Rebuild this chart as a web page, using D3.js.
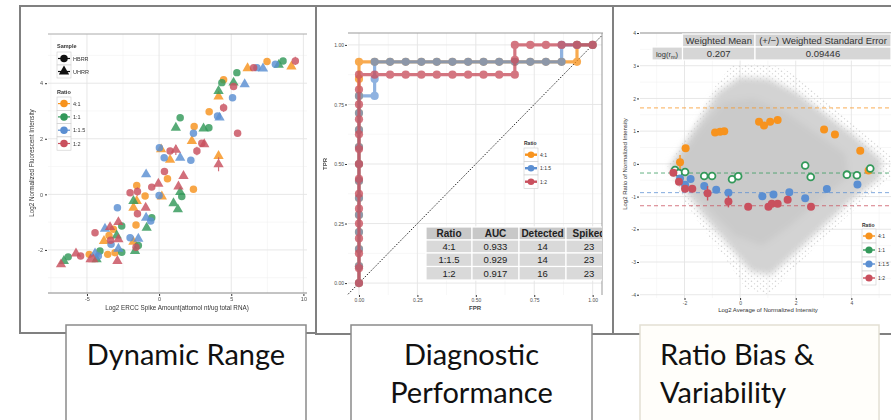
<!DOCTYPE html>
<html lang="en">
  <head>
    <meta charset="UTF-8" />
    <title>ERCC metrics</title>
    <script src="https://d3js.org/d3.v7.min.js"></script>
    <style>
      * {
        margin: 0;
        padding: 0;
      }
      body {
        background: #fff;
        font-family: "Liberation Sans", Arial, sans-serif;
      }
    </style>
  </head>
  <body>
    <div id="svgContainer"></div>
    <script>
      // ---------- data ----------
      const ratioNames = ["4:1", "1:1", "1:1.5", "1:2"];
      const ratioColors = ["#f7931e", "#33995a", "#5b8fd2", "#c9505e"];
      const sampleNames = ["HBRR", "UHRR"];

      // panel 1: [log2 spike amount, log2 intensity, errorbar half length]
      const hbrr41 = [[7.48,4.78],[4.47,4.12],[3.47,2.97],[2.43,2.44],[0.58,0.56],[-1.55,0.32],[-0.97,-0.06],[2.38,0.18],[-1.6,-1.1],[-3.17,-1.26],[-3.47,-1.48],[-3.06,-2.1],[-3.56,-2.16],[-4.84,-2.16]];
      const uhrr41 = [[9.17,4.6],[6.13,4.54],[4.12,3.52],[2.27,1.92],[0.14,1.62],[0.76,1.24],[4.12,1.38],[0.19,-0.08],[-1.55,-0.24],[-1.78,-0.48],[-3.82,-1.68],[-1.78,-1.71]];
      const hbrr11 = [[8.59,4.8],[5.39,4.38],[4.35,4.02],[1.46,2.76],[3.45,2.4],[1.57,-0.08],[-0.51,-0.84],[-2.59,-1.14],[-1.44,-1.84],[-4.1,-2.04],[-2.59,-2.08],[-6.3,-2.25]];
      const uhrr11 = [[8.29,4.66],[5.16,4.02],[4.12,3.72],[1.16,2.4],[3.08,2.37],[1.46,0.08],[-1.78,-0.24],[1.0,-0.32],[1.3,-0.54],[-0.86,-1.2],[-2.94,-1.48],[-1.67,-2.04],[-4.33,-2.34],[-6.6,-2.4]];
      const hbrr115 = [[8.06,4.68],[6.78,4.56],[5.09,3.48],[4.05,2.82],[2.38,2.2],[0.02,1.68],[0.35,1.32],[2.2,1.23],[0,-0.04],[-2.89,-0.48],[-0.58,-0.96],[-2.01,-1.56],[-3.33,-1.8],[-4.21,-2.22]];
      const uhrr115 = [[7.2,4.53],[5.93,3.96],[4.19,2.76],[1.46,1.32],[-0.9,0.72],[-0.9,-0.84],[-3.75,-1.24],[-1.44,-1.6],[-2.82,-1.96],[-4.44,-2.13]];
      const hbrr12 = [[9.44,4.8,0.15],[6.55,4.56],[5.16,3.88],[4.47,3.12,0.15],[5.44,2.2],[2.96,1.84],[0.76,1.56],[2.62,1.56,0.15],[0.37,0.82],[-0.51,0.26],[-2.01,0.06],[-1.5,0.1,0.15],[-1.5,-0.7,0.12],[-4.44,-1.38],[-3.36,-1.65],[-1.6,-1.9],[-5.44,-2.22]];
      const uhrr12 = [[3.13,1.8],[1.16,1.6,0.18],[4.12,1.08,0.25],[1.69,0.66],[-0.05,0.38],[1.34,0.28],[-0.93,-0.48],[-2.82,-1.0],[-3.4,-1.18],[-2.82,-1.62],[-4.56,-2.34],[-4.75,-2.34],[-2.89,-2.4],[-5.76,-2.13],[-6.8,-2.52]];
      const p1XTicks = [-5, 0, 5, 10];
      const p1YTicks = [-2, 0, 2, 4];

      // panel 2: ROC curves
      const roc41Fpr = [0,0,0,0,0,0,0,0,0,0,0,0,0,0,0.067,0.133,0.2,0.267,0.333,0.4,0.467,0.533,0.6,0.667,0.733,0.8,0.867,0.933,0.933,1];
      const roc41Tpr = [0,0.071,0.143,0.214,0.286,0.357,0.429,0.5,0.571,0.643,0.714,0.786,0.857,0.929,0.929,0.929,0.929,0.929,0.929,0.929,0.929,0.929,0.929,0.929,0.929,0.929,0.929,0.929,1,1];
      const roc115Fpr = [0,0,0,0,0,0,0,0,0,0,0,0,0.067,0.067,0.067,0.133,0.2,0.267,0.333,0.4,0.467,0.533,0.6,0.667,0.733,0.8,0.867,0.867,0.933,1];
      const roc115Tpr = [0,0.071,0.143,0.214,0.286,0.357,0.429,0.5,0.571,0.643,0.714,0.786,0.786,0.857,0.929,0.929,0.929,0.929,0.929,0.929,0.929,0.929,0.929,0.929,0.929,0.929,0.929,1,1,1];
      const roc12Fpr = [0,0,0,0,0,0,0,0,0,0,0,0,0,0,0,0.067,0.133,0.2,0.267,0.333,0.4,0.467,0.533,0.6,0.667,0.667,0.667,0.733,0.8,0.867,0.933,1];
      const roc12Tpr = [0,0.0625,0.125,0.1875,0.25,0.3125,0.375,0.4375,0.5,0.5625,0.625,0.6875,0.75,0.8125,0.875,0.875,0.875,0.875,0.875,0.875,0.875,0.875,0.875,0.875,0.875,0.9375,1,1,1,1,1,1];
      const rocRatios = ["4:1", "1:1.5", "1:2"];
      const aucCols = ["Ratio", "AUC", "Detected", "Spiked"];
      const aucRows = [["4:1","0.933","14","23"],["1:1.5","0.929","14","23"],["1:2","0.917","16","23"]];
      const p2Ticks = [0, 0.25, 0.5, 0.75, 1];

      // panel 3: ratio vs average intensity
      const cloudOuter = [[-2.62,-0.1],[-1.6,1.3],[-0.8,2.5],[-0.3,3.0],[0.5,3.05],[1.5,2.95],[2.3,2.5],[3.3,1.75],[4.4,1.0],[5.5,0.15],[5.5,-0.4],[4.5,-1.1],[3.4,-1.95],[2.4,-2.8],[1.6,-3.5],[1.0,-4.0],[0.2,-3.8],[-0.6,-2.8],[-1.4,-1.9],[-2.1,-1.0]];
      const cloudMid = [[-2.55,-0.1],[-1.6,1.15],[-0.8,2.2],[0,2.65],[1.0,2.6],[2.0,2.2],[3.1,1.5],[4.2,0.8],[5.1,0.1],[5.0,-0.45],[4.0,-1.1],[3.0,-1.9],[2.0,-2.7],[1.1,-3.4],[0.4,-3.3],[-0.4,-2.5],[-1.3,-1.6],[-2.0,-0.8]];
      const cloudInner = [[-2.4,-0.1],[-1.5,1.0],[-0.6,1.9],[0.5,2.0],[1.6,1.6],[2.8,0.9],[3.8,0.3],[3.9,-0.4],[2.9,-1.1],[1.8,-1.9],[0.8,-2.5],[-0.2,-2.2],[-1.2,-1.3],[-1.9,-0.7]];
      const p3r41 = [[-2.16,0.05,0.22],[-1.96,0.48],[-0.9,0.96],[-0.72,0.98],[-0.57,1.0,0.1],[0.68,1.29],[0.86,1.17],[1.08,1.29],[1.35,1.34],[3.02,1.05],[3.41,0.9],[4.32,0.4],[4.62,-0.2]];
      const p3r11 = [[-2.34,-0.19],[-2.2,-0.28],[-1.98,-0.25],[-1.29,-0.37],[-1.01,-0.37],[-0.29,-0.47],[-0.07,-0.38],[2.34,-0.05],[2.54,-0.4],[3.84,-0.33],[4.2,-0.35],[4.68,-0.14]];
      const p3r115 = [[-2.16,-0.45],[-1.98,-0.64],[-1.78,-0.46],[-1.29,-0.68],[-0.86,-0.79],[-0.42,-0.88],[0.8,-0.99],[1.2,-0.94],[1.77,-0.87],[2.34,-1.05],[3.12,-0.77],[4.22,-0.63]];
      const p3r12 = [[-2.4,-0.27],[-2.2,-0.55],[-1.98,-0.76],[-1.72,-0.76],[-1.17,-0.9,0.22],[-0.42,-1.15,0.18],[0.29,-1.31],[1.02,-1.31],[1.14,-1.22],[1.35,-1.22],[1.71,-1.1],[2.55,-1.31]];
      const p3Expected = [1.71, -0.28, -0.88, -1.28];
      const p3XTicks = [-2, 0, 2, 4];
      const p3YTicks = [-4, -3, -2, -1, 0, 1, 2, 3, 4];
      const wCols = ["Weighted Mean", "(+/\u2212) Weighted Standard Error"];
      const wVals = ["0.207", "0.09446"];

      const captions = [["Dynamic Range"], ["Diagnostic", "Performance"], ["Ratio Bias &", "Variability"]];

      // ---------- svg ----------
      const width = 891, height = 420;
      const svg = d3.select("#svgContainer").append("svg")
        .attr("width", width).attr("height", height);

      const defs = svg.append("defs");
      [["clip2", 316, 6, 297, 330], ["clip3", 613, 6, 280, 330]].forEach(c => {
        defs.append("clipPath").attr("id", c[0]).append("rect")
          .attr("x", c[1]).attr("y", c[2]).attr("width", c[3]).attr("height", c[4]);
      });
      defs.append("clipPath").attr("id", "clipTable2").append("rect")
        .attr("x", 420).attr("y", 220).attr("width", 182).attr("height", 70);
      const pat = defs.append("pattern").attr("id", "speck").attr("width", 6).attr("height", 5)
        .attr("patternUnits", "userSpaceOnUse");
      pat.append("circle").attr("cx", 1.5).attr("cy", 1.2).attr("r", 0.8).attr("fill", "#d2d2d2");
      pat.append("circle").attr("cx", 4.5).attr("cy", 3.7).attr("r", 0.7).attr("fill", "#dadada");
      defs.append("filter").attr("id", "soft").attr("x", "-10%").attr("y", "-10%")
        .attr("width", "120%").attr("height", "120%")
        .append("feGaussianBlur").attr("stdDeviation", 3);

      // outer frames
      [[20, 6, 296, 327], [316, 6, 297, 328], [613, 6, 300, 328]].forEach(f => {
        svg.append("rect").attr("x", f[0]).attr("y", f[1]).attr("width", f[2]).attr("height", f[3])
          .attr("fill", "none").attr("stroke", "#808080").attr("stroke-width", 2);
      });

      function grid(g, x, y, xs, ys, cls) {
        g.selectAll("line." + cls + "x").data(xs).join("line")
          .attr("x1", d => x(d)).attr("x2", d => x(d))
          .attr("y1", y.range()[0]).attr("y2", y.range()[1]);
        g.selectAll("line." + cls + "y").data(ys).join("line")
          .attr("y1", d => y(d)).attr("y2", d => y(d))
          .attr("x1", x.range()[0]).attr("x2", x.range()[1]);
      }

      function styleAxis(a, size) {
        a.select(".domain").remove();
        a.selectAll("text").attr("font-size", size).attr("fill", "#4d4d4d");
        a.selectAll("line").attr("stroke", "#333");
      }

      // ---------- panel 1: dynamic range ----------
      const x1 = d3.scaleLinear().domain([-7.7, 10.25]).range([48, 307]);
      const y1 = d3.scaleLinear().domain([-3.55, 5.77]).range([293, 34]);
      const g1 = svg.append("g");
      grid(g1.append("g").attr("stroke", "#f1f1f1").attr("stroke-width", 0.6), x1, y1,
        [-7.5, -2.5, 2.5, 7.5], [-3, -1, 1, 3, 5], "mn");
      grid(g1.append("g").attr("stroke", "#e4e4e4").attr("stroke-width", 0.9), x1, y1,
        p1XTicks, p1YTicks, "mj");
      g1.append("line").attr("x1", 48).attr("x2", 307).attr("y1", 34).attr("y2", 34)
        .attr("stroke", "#aaa").attr("stroke-width", 1);
      g1.append("line").attr("x1", 48).attr("x2", 307).attr("y1", 293).attr("y2", 293)
        .attr("stroke", "#888").attr("stroke-width", 1);

      const p1Series = [
        [hbrr41, 0, 0], [uhrr41, 0, 1], [hbrr11, 1, 0], [uhrr11, 1, 1],
        [hbrr115, 2, 0], [uhrr115, 2, 1], [hbrr12, 3, 0], [uhrr12, 3, 1]
      ];
      const circleSym = d3.symbol().type(d3.symbolCircle).size(44);
      const triSym = d3.symbol().type(d3.symbolTriangle).size(46);
      p1Series.forEach(s => {
        const col = ratioColors[s[1]];
        const sg = g1.append("g").attr("opacity", 0.82);
        sg.selectAll("line").data(s[0].filter(d => d[2])).join("line")
          .attr("x1", d => x1(d[0])).attr("x2", d => x1(d[0]))
          .attr("y1", d => y1(d[1] - d[2])).attr("y2", d => y1(d[1] + d[2]))
          .attr("stroke", col).attr("stroke-width", 1.2);
        sg.selectAll("path").data(s[0]).join("path")
          .attr("d", s[2] === 0 ? circleSym : triSym)
          .attr("transform", d => `translate(${x1(d[0])},${y1(d[1])})`)
          .attr("fill", col);
      });

      const ax1 = g1.append("g").attr("transform", "translate(47,0)")
        .call(d3.axisLeft(y1).tickValues(p1YTicks).tickSize(2).tickPadding(2).tickFormat(d => String(d)));
      styleAxis(ax1, 5.5);
      const bx1 = g1.append("g").attr("transform", "translate(0,294)")
        .call(d3.axisBottom(x1).tickValues(p1XTicks).tickSize(2).tickPadding(1).tickFormat(d => String(d)));
      styleAxis(bx1, 5.5);
      g1.append("text").attr("x", 177).attr("y", 310).attr("text-anchor", "middle")
        .attr("font-size", 6.3).attr("fill", "#333")
        .text("Log2 ERCC Spike Amount(attomol nt/ug total RNA)");
      g1.append("text").attr("transform", "translate(34,163) rotate(-90)")
        .attr("text-anchor", "middle").attr("font-size", 6.3).attr("fill", "#333")
        .text("Log2 Normalized Fluorescent Intensity");

      // legend panel 1
      const lg1 = g1.append("g").attr("font-size", 5.5).attr("fill", "#333");
      lg1.append("text").attr("x", 57).attr("y", 48).attr("font-weight", "bold").text("Sample");
      sampleNames.forEach((n, i) => {
        const yy = 52 + i * 13;
        lg1.append("rect").attr("x", 57).attr("y", yy).attr("width", 14).attr("height", 13)
          .attr("fill", "#fff").attr("stroke", "#ccc").attr("stroke-width", 0.6);
        lg1.append("line").attr("x1", 58).attr("x2", 70).attr("y1", yy + 6.5).attr("y2", yy + 6.5)
          .attr("stroke", "#111").attr("stroke-width", 1.2);
        lg1.append("path").attr("d", i === 0 ? circleSym : triSym)
          .attr("transform", `translate(64,${yy + 6.5})`).attr("fill", "#111");
        lg1.append("text").attr("x", 73).attr("y", yy + 8.5).text(n);
      });
      lg1.append("text").attr("x", 57).attr("y", 94).attr("font-weight", "bold").text("Ratio");
      ratioNames.forEach((n, i) => {
        const yy = 97 + i * 13.3;
        lg1.append("rect").attr("x", 57).attr("y", yy).attr("width", 14).attr("height", 13.3)
          .attr("fill", "#fff").attr("stroke", "#ccc").attr("stroke-width", 0.6);
        lg1.append("line").attr("x1", 58).attr("x2", 70).attr("y1", yy + 6.6).attr("y2", yy + 6.6)
          .attr("stroke", ratioColors[i]).attr("stroke-width", 1.2);
        lg1.append("path").attr("d", circleSym)
          .attr("transform", `translate(64,${yy + 6.6})`).attr("fill", ratioColors[i]);
        lg1.append("text").attr("x", 73).attr("y", yy + 8.6).text(n);
      });

      // ---------- panel 2: diagnostic performance ----------
      const x2 = d3.scaleLinear().domain([-0.047, 1.04]).range([348, 602]);
      const y2 = d3.scaleLinear().domain([-0.05, 1.05]).range([295, 33]);
      const g2 = svg.append("g").attr("clip-path", "url(#clip2)");
      grid(g2.append("g").attr("stroke", "#f1f1f1").attr("stroke-width", 0.6), x2, y2,
        [0.125, 0.375, 0.625, 0.875], [0.125, 0.375, 0.625, 0.875], "mn");
      grid(g2.append("g").attr("stroke", "#e4e4e4").attr("stroke-width", 0.9), x2, y2,
        p2Ticks, p2Ticks, "mj");
      g2.append("line").attr("x1", 348).attr("x2", 603).attr("y1", 33).attr("y2", 33)
        .attr("stroke", "#999").attr("stroke-width", 1);
      g2.append("line").attr("x1", 602).attr("x2", 602).attr("y1", 33).attr("y2", 295)
        .attr("stroke", "#999").attr("stroke-width", 1);
      g2.append("line")
        .attr("x1", x2(-0.047)).attr("y1", y2(-0.047)).attr("x2", x2(1.04)).attr("y2", y2(1.04))
        .attr("stroke", "#111").attr("stroke-width", 0.9).attr("stroke-dasharray", "1.5,1.5");

      const rocSets = [[roc41Fpr, roc41Tpr, 0], [roc115Fpr, roc115Tpr, 2], [roc12Fpr, roc12Tpr, 3]];
      const rocLine = d3.line().x(d => x2(d[0])).y(d => y2(d[1]));
      rocSets.forEach(s => {
        const pts = s[0].map((f, i) => [f, s[1][i]]);
        const col = ratioColors[s[2]];
        const sg = g2.append("g").attr("opacity", s[2] === 2 ? 0.68 : 0.78);
        sg.append("path").datum(pts).attr("d", rocLine).attr("fill", "none")
          .attr("stroke", col).attr("stroke-width", 3.2).attr("stroke-linejoin", "round");
        sg.selectAll("circle").data(pts).join("circle")
          .attr("cx", d => x2(d[0])).attr("cy", d => y2(d[1])).attr("r", 4.1).attr("fill", col);
      });

      const ax2 = g2.append("g").attr("transform", "translate(347,0)")
        .call(d3.axisLeft(y2).tickValues(p2Ticks).tickSize(2).tickPadding(1).tickFormat(d3.format(".2f")));
      styleAxis(ax2, 5);
      const bx2 = g2.append("g").attr("transform", "translate(0,295)")
        .call(d3.axisBottom(x2).tickValues(p2Ticks).tickSize(2).tickPadding(1).tickFormat(d3.format(".2f")));
      styleAxis(bx2, 5);
      g2.append("text").attr("x", 475).attr("y", 310).attr("text-anchor", "middle")
        .attr("font-size", 6).attr("font-weight", "bold").attr("fill", "#444").text("FPR");
      g2.append("text").attr("transform", "translate(327,164) rotate(-90)")
        .attr("text-anchor", "middle").attr("font-size", 6).attr("font-weight", "bold")
        .attr("fill", "#444").text("TPR");

      // legend panel 2
      const lg2 = g2.append("g").attr("font-size", 5).attr("fill", "#333");
      lg2.append("text").attr("x", 524).attr("y", 145).attr("font-weight", "bold").text("Ratio");
      rocRatios.forEach((n, i) => {
        const yy = 148 + i * 13.5;
        const col = ratioColors[[0, 2, 3][i]];
        lg2.append("rect").attr("x", 524).attr("y", yy).attr("width", 14).attr("height", 13.5)
          .attr("fill", "#fff").attr("stroke", "#ccc").attr("stroke-width", 0.6);
        lg2.append("line").attr("x1", 525).attr("x2", 537).attr("y1", yy + 6.7).attr("y2", yy + 6.7)
          .attr("stroke", col).attr("stroke-width", 2.4);
        lg2.append("circle").attr("cx", 531).attr("cy", yy + 6.7).attr("r", 3.3).attr("fill", col);
        lg2.append("text").attr("x", 540).attr("y", yy + 8.6).text(n);
      });

      // auc table
      const tb2 = g2.append("g").attr("clip-path", "url(#clipTable2)");
      const colX = [426, 472, 519, 566, 612];
      const rowY = [227, 240, 253, 266.5, 280];
      [aucCols].concat(aucRows).forEach((row, r) => {
        row.forEach((cell, c) => {
          tb2.append("rect").attr("x", colX[c]).attr("y", rowY[r])
            .attr("width", colX[c + 1] - colX[c]).attr("height", rowY[r + 1] - rowY[r])
            .attr("fill", r === 0 ? "#c8c8c8" : "#d9d9d9").attr("stroke", "#fff").attr("stroke-width", 1.2);
          tb2.append("text").attr("x", (colX[c] + colX[c + 1]) / 2).attr("y", rowY[r] + 10)
            .attr("text-anchor", "middle").attr("font-size", r === 0 ? 10 : 9.5)
            .attr("font-weight", r === 0 ? "bold" : "normal").attr("fill", "#222").text(cell);
        });
      });

      // ---------- panel 3: ratio bias ----------
      const x3 = d3.scaleLinear().domain([-3.6, 5.93]).range([640, 905]);
      const y3 = d3.scaleLinear().domain([-4.1, 4]).range([298, 33]);
      const g3 = svg.append("g").attr("clip-path", "url(#clip3)");
      grid(g3.append("g").attr("stroke", "#f1f1f1").attr("stroke-width", 0.6), x3, y3,
        [-3, -1, 1, 3, 5], [-3.5, -2.5, -1.5, -0.5, 0.5, 1.5, 2.5, 3.5], "mn");
      grid(g3.append("g").attr("stroke", "#e4e4e4").attr("stroke-width", 0.9), x3, y3,
        p3XTicks, p3YTicks, "mj");

      const cloud = d3.line().x(d => x3(d[0])).y(d => y3(d[1])).curve(d3.curveLinearClosed);
      g3.append("path").datum(cloudOuter).attr("d", cloud).attr("fill", "url(#speck)");
      const cg = g3.append("g").attr("filter", "url(#soft)");
      cg.append("path").datum(cloudMid).attr("d", cloud).attr("fill", "#d3d3d3");
      cg.append("path").datum(cloudInner).attr("d", cloud).attr("fill", "#cacaca");

      g3.selectAll("line.exp").data(p3Expected).join("line").attr("class", "exp")
        .attr("x1", 640).attr("x2", 905).attr("y1", d => y3(d)).attr("y2", d => y3(d))
        .attr("stroke", (d, i) => ratioColors[i]).attr("stroke-width", 0.9)
        .attr("stroke-dasharray", "4,3").attr("opacity", 0.85);

      [p3r41, p3r11, p3r115, p3r12].forEach((pts, i) => {
        const col = ratioColors[i];
        const sg = g3.append("g");
        sg.selectAll("line").data(pts.filter(d => d[2])).join("line")
          .attr("x1", d => x3(d[0])).attr("x2", d => x3(d[0]))
          .attr("y1", d => y3(d[1] - d[2])).attr("y2", d => y3(d[1] + d[2]))
          .attr("stroke", col).attr("stroke-width", 1.4);
        sg.selectAll("circle").data(pts).join("circle")
          .attr("cx", d => x3(d[0])).attr("cy", d => y3(d[1]))
          .attr("r", i === 1 ? 3.4 : 4)
          .attr("fill", i === 1 ? "#fff" : col)
          .attr("stroke", col).attr("stroke-width", i === 1 ? 1.8 : 0);
      });

      g3.append("line").attr("x1", 640).attr("x2", 905).attr("y1", 33).attr("y2", 33)
        .attr("stroke", "#999").attr("stroke-width", 1);
      const ax3 = g3.append("g").attr("transform", "translate(639,0)")
        .call(d3.axisLeft(y3).tickValues(p3YTicks).tickSize(2).tickPadding(1).tickFormat(d => String(d)));
      styleAxis(ax3, 5);
      const bx3 = g3.append("g").attr("transform", "translate(0,298)")
        .call(d3.axisBottom(x3).tickValues(p3XTicks).tickSize(2).tickPadding(1).tickFormat(d => String(d)));
      styleAxis(bx3, 5);
      g3.append("text").attr("x", 768).attr("y", 312).attr("text-anchor", "middle")
        .attr("font-size", 6).attr("fill", "#333").text("Log2 Average of Normalized Intensity");
      g3.append("text").attr("transform", "translate(627,164) rotate(-90)")
        .attr("text-anchor", "middle").attr("font-size", 6).attr("fill", "#333")
        .text("Log2 Ratio of Normalized Intensity");

      // weighted table
      const wX = [652, 682.5, 755, 891];
      const wY = [34, 47, 60];
      g3.selectAll("rect.wh").data(wCols).join("rect").attr("class", "wh")
        .attr("x", (d, i) => wX[i + 1]).attr("y", wY[0])
        .attr("width", (d, i) => wX[i + 2] - wX[i + 1]).attr("height", wY[1] - wY[0])
        .attr("fill", "#d2d2d2").attr("stroke", "#fff").attr("stroke-width", 1.2);
      g3.selectAll("text.wh").data(wCols).join("text").attr("class", "wh")
        .attr("x", (d, i) => (wX[i + 1] + wX[i + 2]) / 2).attr("y", wY[0] + 9.8)
        .attr("text-anchor", "middle").attr("font-size", 9.5).attr("fill", "#333").text(d => d);
      g3.selectAll("rect.wv").data([""].concat(wVals)).join("rect").attr("class", "wv")
        .attr("x", (d, i) => wX[i]).attr("y", wY[1])
        .attr("width", (d, i) => wX[i + 1] - wX[i]).attr("height", wY[2] - wY[1])
        .attr("fill", "#d6d6d6").attr("stroke", "#fff").attr("stroke-width", 1.2);
      g3.selectAll("text.wv").data(wVals).join("text").attr("class", "wv")
        .attr("x", (d, i) => (wX[i + 1] + wX[i + 2]) / 2).attr("y", wY[1] + 10)
        .attr("text-anchor", "middle").attr("font-size", 9.5).attr("fill", "#333").text(d => d);
      const lbl = g3.append("text").attr("x", 667).attr("y", wY[1] + 9.5)
        .attr("text-anchor", "middle").attr("font-size", 7.5).attr("fill", "#333");
      lbl.append("tspan").text("log(r");
      lbl.append("tspan").attr("font-size", 5.5).attr("dy", 2).text("m");
      lbl.append("tspan").attr("dy", -2).text(")");

      // legend panel 3
      const lg3 = g3.append("g").attr("font-size", 5).attr("fill", "#333");
      lg3.append("text").attr("x", 862).attr("y", 227).attr("font-weight", "bold").text("Ratio");
      ratioNames.forEach((n, i) => {
        const yy = 229 + i * 14;
        lg3.append("rect").attr("x", 862).attr("y", yy).attr("width", 14).attr("height", 14)
          .attr("fill", "#fff").attr("stroke", "#ccc").attr("stroke-width", 0.6);
        lg3.append("line").attr("x1", 863).attr("x2", 875).attr("y1", yy + 7).attr("y2", yy + 7)
          .attr("stroke", ratioColors[i]).attr("stroke-width", 1.4);
        lg3.append("circle").attr("cx", 869).attr("cy", yy + 7).attr("r", 3.6).attr("fill", ratioColors[i]);
        lg3.append("text").attr("x", 878).attr("y", yy + 9).text(n);
      });

      // ---------- caption boxes ----------
      const capBoxes = [[66, 306, "#8a8a8a", "#fff"], [351, 592, "#8a8a8a", "#fff"], [640, 879, "#e3e0d4", "#fffefa"]];
      capBoxes.forEach((b, i) => {
        svg.append("rect").attr("x", b[0]).attr("y", 325).attr("width", b[1] - b[0]).attr("height", 100)
          .attr("fill", b[3]).attr("stroke", b[2]).attr("stroke-width", 1.5);
        const anchor = i === 2 ? "start" : "middle";
        const tx = i === 2 ? 660 : (b[0] + b[1]) / 2;
        captions[i].forEach((line, j) => {
          svg.append("text").attr("x", tx).attr("y", 365 + j * 38)
            .attr("text-anchor", anchor).attr("font-family", "Lato, 'Open Sans', sans-serif")
            .attr("font-size", 29).attr("fill", "#111").text(line);
        });
      });
    </script>
  </body>
</html>
